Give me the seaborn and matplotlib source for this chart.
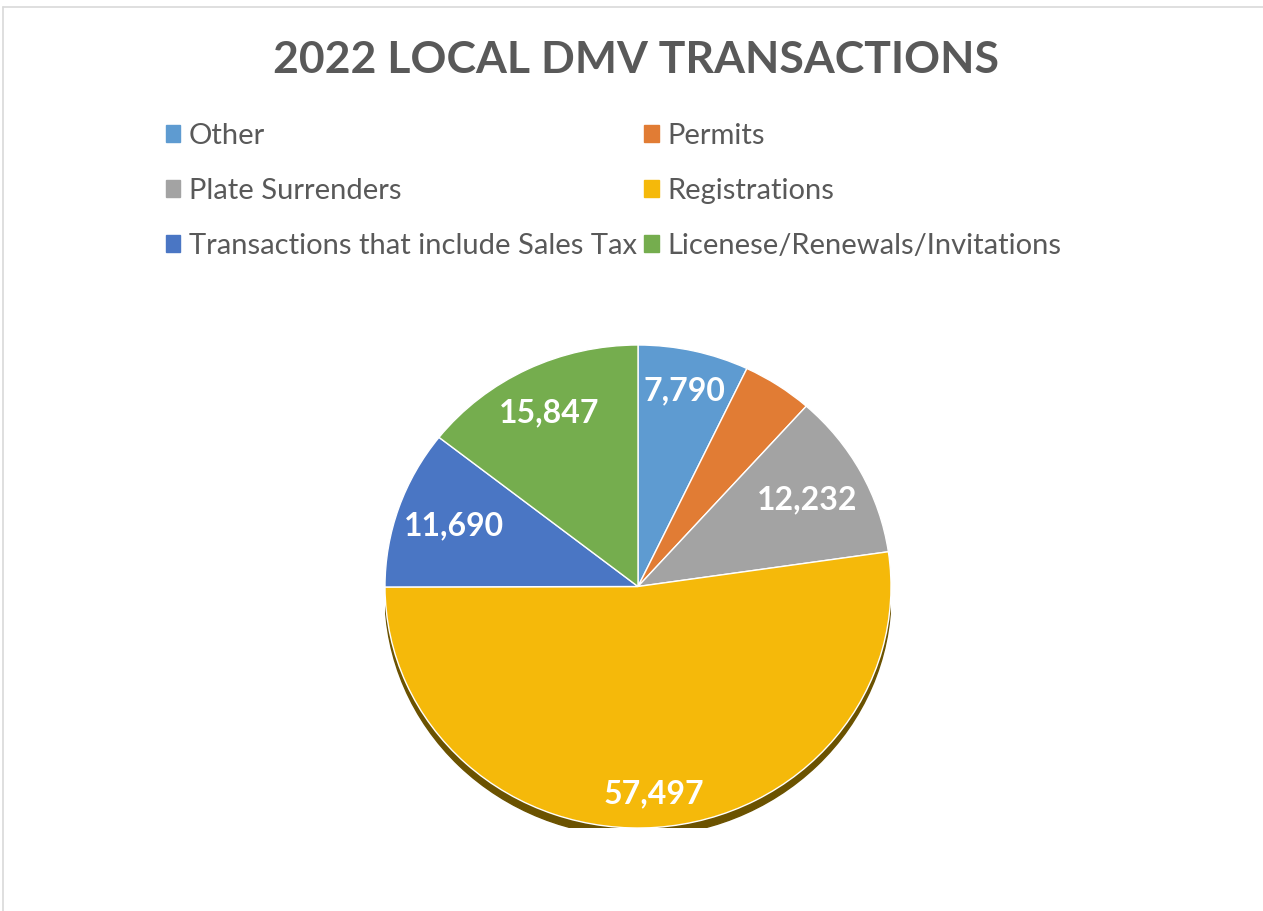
import matplotlib.pyplot as plt
import matplotlib.patches as mpatches
import seaborn as sns
import numpy as np

# Chart data
categories = ["Other", "Permits", "Plate Surrenders", "Registrations",
              "Transactions that include Sales Tax", "Licenese/Renewals/Invitations"]
transactions = [7790, 4950, 12232, 57497, 11690, 15847]
show_label = [True, False, True, True, True, True]

colors = ["#5E9BD1", "#E17C34", "#A3A3A3", "#F5B90A", "#4A76C4", "#75AD4E"]
label_dist = [0.83, 0.0, 0.76, 0.86, 0.77, 0.80]

sns.set_theme(style="white")
plt.rcParams['font.family'] = ['Lato', 'DejaVu Sans']

W, H = 1263, 911
fig = plt.figure(figsize=(W / 100, H / 100), dpi=100)
fig.patch.set_facecolor("white")

# Light frame on top and left edges
fig.add_artist(plt.Line2D([3 / W, 1.0], [1 - 7 / H, 1 - 7 / H], color="#D9D9D9", lw=1.2))
fig.add_artist(plt.Line2D([3 / W, 3 / W], [0.0, 1 - 7 / H], color="#D9D9D9", lw=1.2))

fig.text(636 / W, 1 - 60 / H, "2022 LOCAL DMV TRANSACTIONS", ha="center", va="center",
         fontsize=32, fontweight="bold", color="#595959")

# Pie axes in pixel box
left, right, top, bottom = 385, 891, 345, 828
ax = fig.add_axes([left / W, 1 - bottom / H, (right - left) / W, (bottom - top) / H])

# Drop shadow underneath
shadow = mpatches.Ellipse((0.0, -0.035), 2.0, 2.0, color="#6B5200", zorder=0)
ax.add_patch(shadow)

wedges, _ = ax.pie(transactions, colors=colors, startangle=90, counterclock=False,
                   radius=1.0, wedgeprops=dict(edgecolor="white", linewidth=1.0))
for w in wedges:
    w.set_zorder(2)

for w, val, show, d in zip(wedges, transactions, show_label, label_dist):
    if not show:
        continue
    mid = np.deg2rad((w.theta1 + w.theta2) / 2)
    ax.text(d * np.cos(mid), d * np.sin(mid), f"{val:,}", ha="center", va="center",
            fontsize=23, fontweight="bold", color="white", zorder=3)

ax.set_xlim(-1, 1)
ax.set_ylim(-1, 1)
ax.set_aspect("auto")
ax.axis("off")

# Legend (row-major order -> column-major for matplotlib)
handles = [mpatches.Patch(color=c, label=l) for c, l in zip(colors, categories)]
order = [0, 2, 4, 1, 3, 5]
fig.legend([handles[i] for i in order], [categories[i] for i in order],
           loc="upper left", bbox_to_anchor=(154 / W, 1 - 111 / H), ncol=2,
           frameon=False, fontsize=21, labelcolor="#595959",
           handlelength=0.5, handleheight=0.5, handletextpad=0.3,
           labelspacing=1.0, columnspacing=0.25, borderaxespad=0)

fig.savefig("out.png", dpi=100, facecolor="white")
